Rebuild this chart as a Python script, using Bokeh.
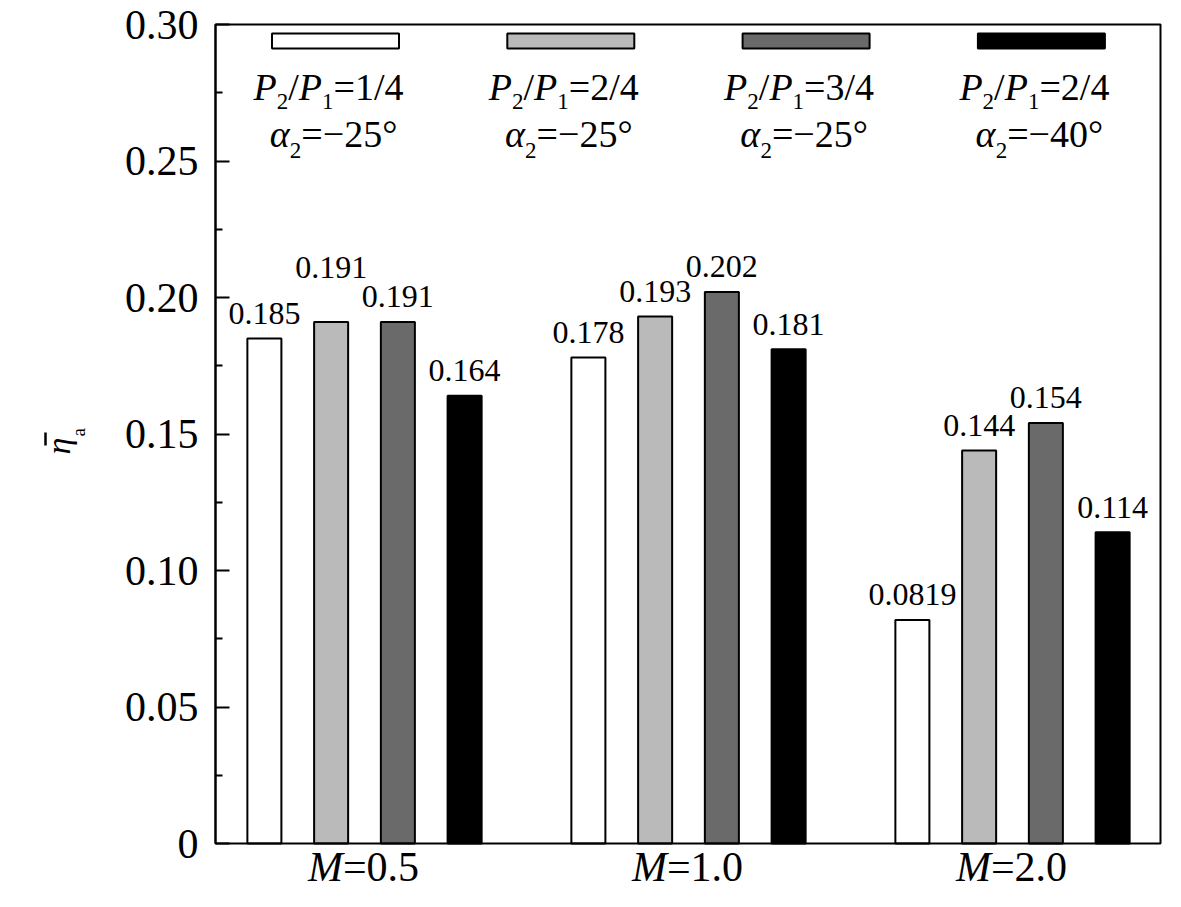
import math
from bokeh.plotting import figure
from bokeh.models import ColumnDataSource, Label, FixedTicker, Range1d, LinearAxis
from bokeh.core.properties import value
from bokeh.embed import file_html
from bokeh.resources import INLINE

# ---- data ----
m_values = ["0.5", "1.0", "2.0"]                  # M
ratios = ["1/4", "2/4", "3/4", "2/4"]            # P2/P1
alphas = ["25", "25", "25", "40"]                # -alpha2 (deg)
colors = ["white", "#bababa", "#6a6a6a", "black"]
eta_m05 = [0.185, 0.191, 0.191, 0.164]
eta_m10 = [0.178, 0.193, 0.202, 0.181]
eta_m20 = [0.0819, 0.144, 0.154, 0.114]
y_ticks = [0, 0.05, 0.10, 0.15, 0.20, 0.25, 0.30]
y_tick_labels = ["0", "0.05", "0.10", "0.15", "0.20", "0.25", "0.30"]

# ---- layout (canvas pixels) ----
W, H = 1165, 891
FL, FR, FT, FB = 215, 1160, 24, 843   # the axes box
GX0, GSTEP = 364, 324                 # pixel centre of first group, group spacing
BAR_STEP, BAR_W = 0.206, 0.105
FONT = "Liberation Serif"
BASE_FIX = 0.35                       # baseline correction (em) for rendered text
label_lift = {(0, 1): 29}             # label pushed up to avoid overlap

# rough advance widths (em) for Times-metric fonts
ADV_R = {"/": 0.278, "=": 0.564, "\u2212": 0.564, "\u00b0": 0.4, ".": 0.25}
ADV_I = {"P": 0.611, "M": 0.833, "\u03b1": 0.53}


def dx(px):
    return (px - GX0) / GSTEP


def dy(py):
    return (FB - py) / (FB - FT) * 0.30


def adv(text, size, style):
    table = ADV_I if style == "italic" else ADV_R
    return sum(table.get(c, 0.5) for c in text) * size


# the frame covers the whole canvas, the axis sits at the box edge
p = figure(width=W, height=H, x_range=Range1d(dx(0), dx(W)), y_range=Range1d(dy(H), dy(0)),
           output_backend="svg", toolbar_location=None,
           x_axis_location=None, y_axis_location=None, min_border=0)
p.xgrid.visible = False
p.ygrid.visible = False
p.outline_line_color = None
p.background_fill_color = "white"
p.border_fill_color = "white"

ax = LinearAxis(fixed_location=dx(FL), bounds=(0, 0.30))
ax.ticker = FixedTicker(ticks=y_ticks,
                        minor_ticks=[(a + b) / 2 for a, b in zip(y_ticks[:-1], y_ticks[1:])])
ax.major_label_overrides = dict(zip(y_ticks, y_tick_labels))
ax.axis_line_width = 2
ax.major_tick_line_width = 2
ax.minor_tick_line_width = 2
ax.major_tick_in = 14
ax.major_tick_out = 0
ax.minor_tick_in = 7
ax.minor_tick_out = 0
ax.major_label_standoff = 17
ax.major_label_text_font = FONT
ax.major_label_text_font_size = "42px"
ax.major_label_text_color = "black"
p.add_layout(ax, "left")

# ---- bars ----
xs, tops, fills, texts, yoffs = [], [], [], [], []
for g, vals in enumerate([eta_m05, eta_m10, eta_m20]):
    for k, v in enumerate(vals):
        xs.append(g + (k - 1.5) * BAR_STEP)
        tops.append(v)
        fills.append(colors[k])
        texts.append(f"{v:.3g}")
        yoffs.append(-(14 + BASE_FIX * 32 + label_lift.get((g, k), 0)))
src = ColumnDataSource(dict(x=xs, top=tops, fill=fills, label=texts, yoff=yoffs))
p.vbar(x="x", top="top", bottom=0, width=BAR_W, fill_color="fill",
       line_color="black", line_width=2, source=src)
p.text(x="x", y="top", text="label", source=src, y_offset="yoff",
       text_font=value(FONT), text_font_size=value("32px"),
       text_align="center", text_baseline="alphabetic", text_color="black")

# axes box (top, right, bottom edges)
p.quad(left=dx(FL), right=dx(FR), bottom=0, top=0.30,
       fill_color=None, line_color="black", line_width=2)


def run(px, py, text, size, style="normal", angle=0.0):
    # px, py: wanted start of the baseline
    fix = BASE_FIX * size
    if angle:
        px -= fix
    else:
        py -= fix
    p.add_layout(Label(x=dx(px), y=dy(py), text=text, text_font=FONT,
                       text_font_size=f"{size}px", text_font_style=style,
                       text_align="left", text_baseline="alphabetic",
                       text_color="black", angle=angle))


def flow(cx, base, runs):
    total = sum(adv(t, s, st) for t, s, st, _ in runs)
    x = cx - total / 2
    for t, s, st, d in runs:
        run(x, base + d, t, s, st)
        x += adv(t, s, st)


# ---- legend across the top ----
for i in range(4):
    cx = 335 + i * 235.3
    p.quad(left=dx(cx - 63.5), right=dx(cx + 63.5), top=dy(33), bottom=dy(48),
           fill_color=colors[i], line_color="black", line_width=2)
    flow(cx - 7, 100, [("P", 38, "italic", 0), ("2", 23, "normal", 9),
                       ("/", 38, "normal", 0), ("P", 38, "italic", 0),
                       ("1", 23, "normal", 9), ("=" + ratios[i], 38, "normal", 0)])
    flow(cx - 2, 147, [("\u03b1", 38, "italic", 0), ("2", 23, "normal", 11),
                       ("=\u2212" + alphas[i] + "\u00b0", 38, "normal", 0)])

# ---- category labels ----
for g, m in enumerate(m_values):
    flow(GX0 + g * GSTEP - 1, 881, [("M", 42, "italic", 0), ("=" + m, 42, "normal", 0)])

# ---- y axis title: eta (with bar) and subscript a ----
run(70, 454, "\u03b7", 34, "italic", math.pi / 2)
run(85, 436, "a", 19, "normal", math.pi / 2)
p.segment(x0=dx(45), y0=dy(432), x1=dx(45), y1=dy(445), line_color="black", line_width=2.5)

open("out.html", "w").write(file_html(p, INLINE))
